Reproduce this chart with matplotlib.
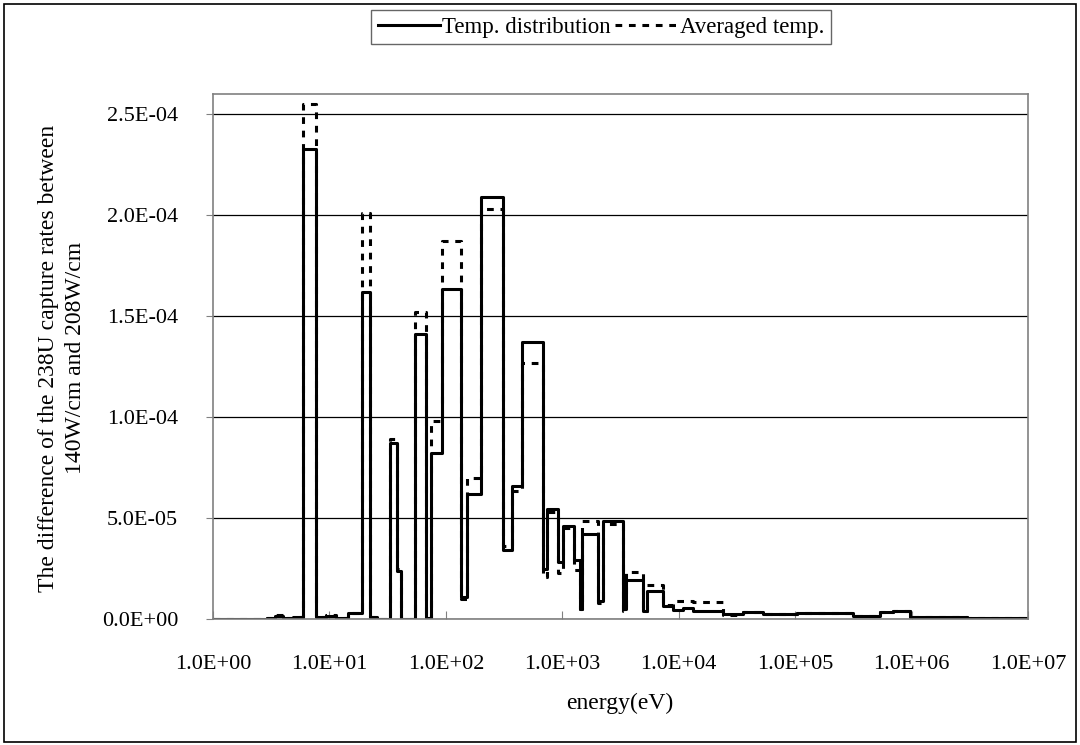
import matplotlib
matplotlib.use("Agg")
import matplotlib.pyplot as plt
import numpy as np
from matplotlib.patches import Rectangle
from matplotlib.ticker import FuncFormatter, MultipleLocator

# energy group boundaries (eV)
edges = [1.0, 2.9, 3.4, 4.0, 4.9, 5.9, 7.7, 9.35, 11.4, 14.5, 19.1, 22.3, 25.6,
         33.2, 37.9, 41.2, 54.4, 67.2, 74.6, 93.3, 135, 151, 201, 312, 368, 454,
         688, 736, 925, 1021, 1270, 1420, 1480, 2040, 2250, 3350, 3500, 4980,
         5320, 7390, 9020, 10970, 13300, 24060, 35700, 53100, 104000, 315000,
         537000, 695000, 973000, 3.0e6, 1.0e7]

# capture rate difference per group
temp_dist = [0, 0.5e-6, 1.5e-6, 0.3e-6, 1.0e-6, 2.33e-4, 0.8e-6, 1.5e-6, 0.5e-6,
             3.0e-6, 1.62e-4, 1.0e-6, 0, 8.7e-5, 2.4e-5, 0, 1.41e-4, 0.5e-6,
             8.2e-5, 1.635e-4, 1.1e-5, 6.2e-5, 2.09e-4, 3.4e-5, 6.6e-5, 1.373e-4,
             2.5e-5, 5.45e-5, 2.8e-5, 4.6e-5, 2.9e-5, 0.5e-5, 4.2e-5, 0.9e-5,
             4.85e-5, 0.5e-5, 1.95e-5, 0.4e-5, 1.4e-5, 0.65e-5, 0.45e-5, 0.55e-5,
             0.4e-5, 0.25e-5, 0.33e-5, 0.25e-5, 0.28e-5, 0.16e-5, 0.33e-5,
             0.4e-5, 0.1e-5, 0.05e-5]

avg_temp = [0, 0.5e-6, 1.8e-6, 0.3e-6, 1.2e-6, 2.55e-4, 0.8e-6, 1.8e-6, 0.6e-6,
            3.2e-6, 2.01e-4, 1.2e-6, 0, 8.9e-5, 2.5e-5, 0, 1.52e-4, 0.5e-6,
            9.8e-5, 1.87e-4, 1.0e-5, 7.0e-5, 2.03e-4, 3.6e-5, 6.35e-5, 1.27e-4,
            2.1e-5, 5.3e-5, 2.3e-5, 4.5e-5, 2.45e-5, 0.5e-5, 4.85e-5, 0.8e-5,
            4.7e-5, 0.4e-5, 2.35e-5, 0.4e-5, 1.7e-5, 0.7e-5, 0.9e-5, 0.9e-5,
            0.85e-5, 0.2e-5, 0.35e-5, 0.25e-5, 0.3e-5, 0.16e-5, 0.35e-5,
            0.42e-5, 0.1e-5, 0.05e-5]

xticks = [1e0, 1e1, 1e2, 1e3, 1e4, 1e5, 1e6, 1e7]

plt.rcParams['font.family'] = ['Liberation Serif', 'DejaVu Serif']

fig = plt.figure(figsize=(10.8, 7.45), dpi=100)
ax = fig.add_axes([213/1080, 1-619/745, (1028-213)/1080, (619-94)/745])

ax.step(edges, temp_dist + [temp_dist[-1]], where='post', color='black',
        lw=2.2, label='Temp. distribution')
ax.step(edges, avg_temp + [avg_temp[-1]], where='post', color='black',
        lw=2.2, dashes=(2.2, 2.2), label='Averaged temp.')

ax.set_xscale('log')
ax.set_xlim(1, 1e7)
ax.set_ylim(0, 2.6e-4)
ax.set_xticks(xticks)
ax.xaxis.set_minor_locator(matplotlib.ticker.NullLocator())
ax.xaxis.set_major_formatter(FuncFormatter(lambda v, p: '%.1E' % v))
ax.yaxis.set_major_locator(MultipleLocator(5e-5))
ax.yaxis.set_major_formatter(FuncFormatter(lambda v, p: '%.1E' % v))
ax.tick_params(axis='x', direction='in', length=6, pad=26, labelsize=16,
               color='#808080')
ax.tick_params(axis='y', direction='out', length=5, pad=20, labelsize=16,
               color='#808080')
ax.grid(axis='y', color='black', lw=0.9)
ax.set_axisbelow(True)
for s in ax.spines.values():
    s.set_color('#808080')
    s.set_linewidth(1.2)

fig.text(62/1080, 1-358/745,
         'The difference of the 238U capture rates between\n140W/cm and 208W/cm',
         rotation=90, ha='center', va='center', fontsize=17, linespacing=1.4)
fig.text(620/1080, 1-703/745, 'energy(eV)', ha='center', va='center', fontsize=17)

leg = fig.legend(loc='center', bbox_to_anchor=(601/1080, 1-27/745), ncol=2,
                 fontsize=16.5, frameon=True, fancybox=False, handlelength=2.7,
                 handletextpad=0.1, columnspacing=0.2, borderpad=0.3)
leg.get_frame().set_edgecolor('#404040')
leg.get_frame().set_linewidth(1.0)

fig.patches.append(Rectangle((4/1080, 3/745), 1072/1080, 738/745,
                             transform=fig.transFigure, fill=False,
                             edgecolor='black', lw=1.2))

fig.savefig('out.png', dpi=100)
